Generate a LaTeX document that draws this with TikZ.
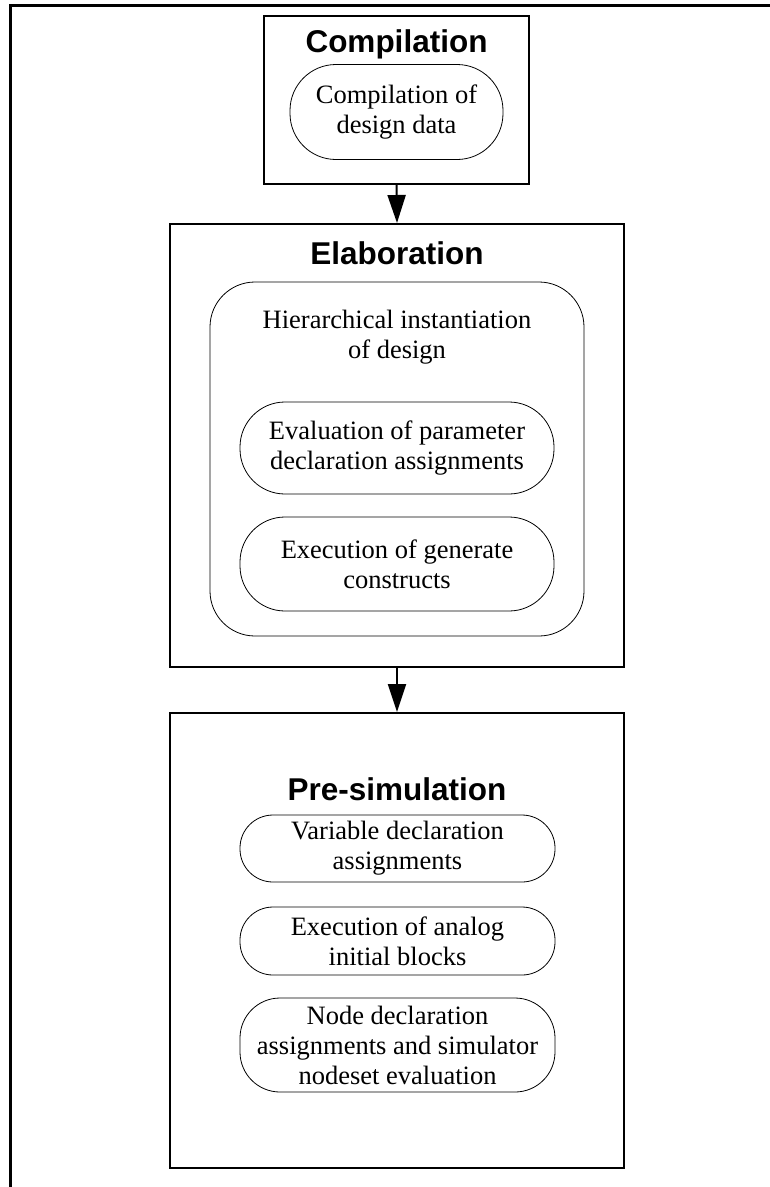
\documentclass[tikz,border=0pt]{standalone}
\usepackage{fontspec}
\setmainfont{Liberation Serif}
\setsansfont{Liberation Sans}
\definecolor{LineColor}{RGB}{0,0,0}
\usepackage{tikz}
\usetikzlibrary{positioning, arrows.meta}
\tikzstyle{stage} = [draw=LineColor, line width=2pt, rectangle, inner sep=0pt]
\tikzstyle{stagetitle} = [font=\fontsize{31.5}{36}\selectfont\sffamily\bfseries, inner sep=0pt]
\tikzstyle{task} = [draw=LineColor, line width=0.8pt, rectangle, rounded corners=33pt, inner sep=0pt, align=center, font=\fontsize{26.5}{30}\selectfont]
\tikzstyle{arrow} = [line width=2pt, LineColor, -{Triangle[length=28pt, width=18pt]}]

\begin{document}
\begin{tikzpicture}[x=1pt, y=-1pt]
        \useasboundingbox (0,0) rectangle (770,1187);
        % Frame
        \draw[line width=3pt, LineColor] (10.5,1187) |- (770,5.5);

        % Compilation
        \node[stage, minimum width=265pt, minimum height=168pt] (compbox) at (396.5,100) {};
        \node[stagetitle] (comptitle) at (396.5,44) {Compilation};
        \node[task, rounded corners=46pt, minimum width=213pt, minimum height=95pt] (compdata) at (396.5,112) {Compilation of\\design data};

        % Elaboration
        \node[stage, minimum width=454pt, minimum height=443pt] (elabbox) at (397,445.5) {};
        \node[stagetitle] (elabtitle) at (397,253) {Elaboration};
        \node[draw=LineColor, line width=0.8pt, rounded corners=45pt, minimum width=374pt, minimum height=354pt] (hier) at (397,459) {};
        \node[align=center, inner sep=0pt, font=\fontsize{26.5}{30}\selectfont] (hiertext) at (397,337) {Hierarchical instantiation\\of design};
        \node[task, rounded corners=45pt, minimum width=314pt, minimum height=92pt] (evalparam) at (397,448) {Evaluation of parameter\\declaration assignments};
        \node[task, rounded corners=45pt, minimum width=314pt, minimum height=94pt] (execgen) at (397,564) {Execution of generate\\constructs};

        % Pre-simulation
        \node[stage, minimum width=454pt, minimum height=455pt] (prebox) at (397,940.5) {};
        \node[stagetitle] (pretitle) at (397,789) {Pre-simulation};
        \node[task, minimum width=315pt, minimum height=67pt] (vardecl) at (397.5,848.5) {Variable declaration\\assignments};
        \node[task, minimum width=315pt, minimum height=68pt] (analoginit) at (397.5,941) {Execution of analog\\initial blocks};
        \node[task, rounded corners=40pt, minimum width=315pt, minimum height=94pt] (nodedecl) at (397.5,1045) {Node declaration\\assignments and simulator\\nodeset evaluation};

        % Flow
        \draw[arrow] (compbox.south) -- (elabbox.north);
        \draw[arrow] (elabbox.south) -- (prebox.north);

      \end{tikzpicture}
\end{document}
